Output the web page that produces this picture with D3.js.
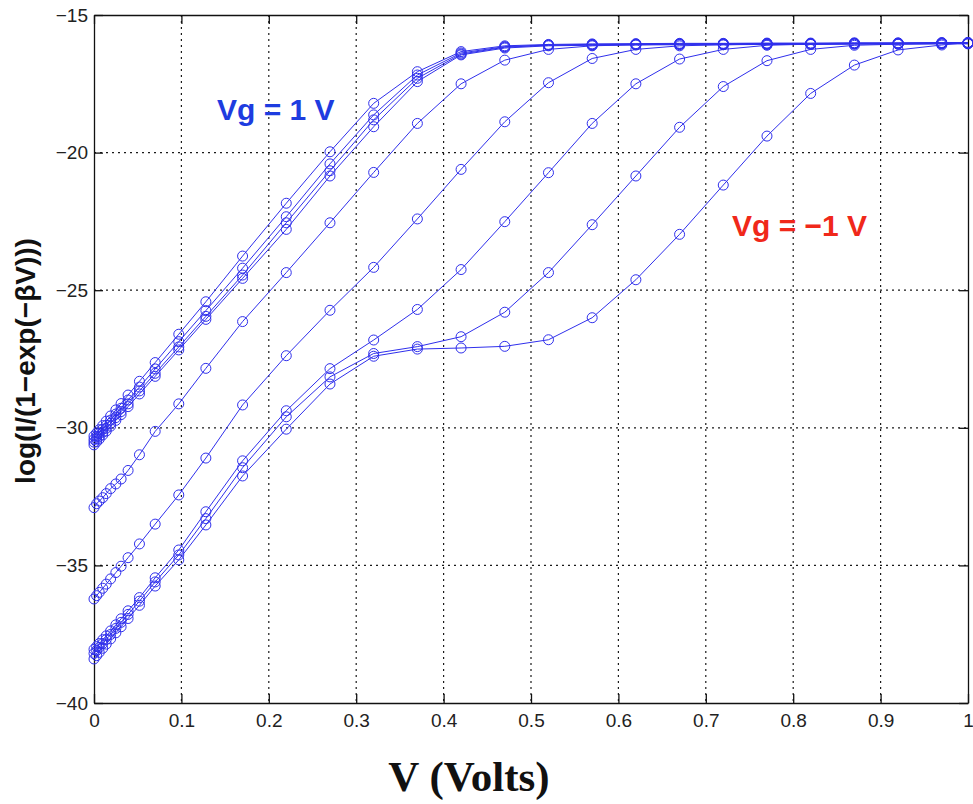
<!DOCTYPE html>
<html>
<head>
<meta charset="utf-8">
<script src="https://cdn.jsdelivr.net/npm/d3@7"></script>
<style>
	body { margin: 0; background: #fff; }
</style>
</head>
<body>
<div id="chart"></div>
<script>
// bias points (V) and one curve per gate voltage
const voltages = [0, 0.003, 0.006, 0.01, 0.014, 0.019, 0.025, 0.031, 0.039, 0.052, 0.07, 0.097, 0.128, 0.17, 0.22, 0.27, 0.32, 0.37, 0.42, 0.47, 0.52, 0.57, 0.62, 0.67, 0.72, 0.77, 0.82, 0.87, 0.92, 0.97, 1.0];

const vgP100 = [-30.30, -30.19, -30.07, -29.92, -29.76, -29.57, -29.35, -29.12, -28.81, -28.31, -27.63, -26.60, -25.42, -23.76, -21.84, -19.97, -18.21, -17.06, -16.33, -16.12, -16.07, -16.05, -16.04, -16.03, -16.03, -16.02, -16.02, -16.01, -16.01, -16.00, -16.00];
const vgP075 = [-30.42, -30.31, -30.20, -30.05, -29.91, -29.72, -29.50, -29.29, -28.99, -28.52, -27.86, -26.87, -25.74, -24.20, -22.33, -20.41, -18.63, -17.18, -16.38, -16.15, -16.09, -16.07, -16.06, -16.05, -16.05, -16.04, -16.04, -16.03, -16.03, -16.02, -16.02];
const vgP050 = [-30.52, -30.41, -30.31, -30.16, -30.02, -29.84, -29.63, -29.41, -29.13, -28.66, -28.02, -27.06, -25.95, -24.45, -22.55, -20.66, -18.81, -17.30, -16.42, -16.17, -16.10, -16.08, -16.07, -16.06, -16.06, -16.05, -16.05, -16.04, -16.04, -16.03, -16.03];
const vgP025 = [-30.62, -30.51, -30.41, -30.26, -30.12, -29.94, -29.73, -29.52, -29.23, -28.77, -28.13, -27.17, -26.06, -24.57, -22.79, -20.85, -19.06, -17.42, -16.45, -16.20, -16.12, -16.10, -16.09, -16.08, -16.08, -16.07, -16.07, -16.06, -16.06, -16.05, -16.05];
const vg000 = [-32.90, -32.76, -32.66, -32.54, -32.39, -32.21, -32.04, -31.86, -31.55, -30.98, -30.13, -29.13, -27.84, -26.14, -24.36, -22.55, -20.72, -18.94, -17.50, -16.64, -16.25, -16.12, -16.08, -16.06, -16.05, -16.04, -16.04, -16.03, -16.03, -16.03, -16.02];
const vgM025 = [-36.22, -36.10, -35.98, -35.83, -35.68, -35.49, -35.26, -35.03, -34.72, -34.22, -33.50, -32.44, -31.10, -29.17, -27.38, -25.73, -24.17, -22.41, -20.61, -18.88, -17.46, -16.58, -16.25, -16.12, -16.08, -16.06, -16.05, -16.04, -16.04, -16.03, -16.03];
const vgM050 = [-38.05, -37.95, -37.84, -37.70, -37.56, -37.38, -37.16, -36.94, -36.65, -36.17, -35.45, -34.44, -33.05, -31.20, -29.38, -27.85, -26.81, -25.70, -24.25, -22.51, -20.73, -18.94, -17.50, -16.60, -16.25, -16.10, -16.06, -16.04, -16.03, -16.02, -16.02];
const vgM075 = [-38.20, -38.09, -37.98, -37.84, -37.69, -37.51, -37.29, -37.07, -36.78, -36.30, -35.60, -34.62, -33.30, -31.45, -29.60, -28.15, -27.30, -27.05, -26.69, -25.80, -24.36, -22.62, -20.85, -19.08, -17.60, -16.66, -16.25, -16.10, -16.06, -16.04, -16.03];
const vgM100 = [-38.40, -38.28, -38.16, -38.01, -37.86, -37.67, -37.45, -37.23, -36.93, -36.45, -35.75, -34.80, -33.53, -31.75, -30.05, -28.41, -27.40, -27.14, -27.10, -27.04, -26.80, -26.00, -24.62, -22.97, -21.18, -19.40, -17.85, -16.82, -16.27, -16.09, -16.00];

const curves = [vgP100, vgP075, vgP050, vgP025, vg000, vgM025, vgM050, vgM075, vgM100];

const xTicks = [0, 0.1, 0.2, 0.3, 0.4, 0.5, 0.6, 0.7, 0.8, 0.9, 1];
const xTickLabels = ["0", "0.1", "0.2", "0.3", "0.4", "0.5", "0.6", "0.7", "0.8", "0.9", "1"];
const yTicks = [-40, -35, -30, -25, -20, -15];
const yTickLabels = ["\u221240", "\u221235", "\u221230", "\u221225", "\u221220", "\u221215"];

const width = 973;
const height = 804;
const lineColor = "#2f2fec";

const x = d3.scaleLinear().domain([0, 1]).range([94, 968]);
const y = d3.scaleLinear().domain([-40, -15]).range([703, 15]);

const svg = d3
	.select("#chart")
	.append("svg")
	.attr("width", width)
	.attr("height", height)
	.style("font-family", "'Liberation Sans', Arial, sans-serif");

// dotted grid
const grid = svg.append("g").attr("stroke", "#1a1a1a").attr("stroke-width", 1.2).attr("stroke-dasharray", "2,4");
grid
	.selectAll(".gx")
	.data(xTicks.slice(1, -1))
	.join("line")
	.attr("x1", (d) => x(d))
	.attr("x2", (d) => x(d))
	.attr("y1", y(-15))
	.attr("y2", y(-40));
grid
	.selectAll(".gy")
	.data(yTicks.slice(1, -1))
	.join("line")
	.attr("x1", x(0))
	.attr("x2", x(1))
	.attr("y1", (d) => y(d))
	.attr("y2", (d) => y(d));

// axes, ticks pointing inwards on all four sides
const axisStyle = (g) => {
	g.selectAll("path, line").attr("stroke", "#111").attr("stroke-width", 1.3);
	g.selectAll("text").attr("fill", "#222").style("font-size", "19px").style("font-family", "'Liberation Sans', Arial, sans-serif");
};

svg.append("g")
	.attr("transform", `translate(0,${y(-40)})`)
	.call(d3.axisBottom(x).tickValues(xTicks).tickFormat((d, i) => xTickLabels[i]).tickSizeInner(-9).tickSizeOuter(0).tickPadding(11))
	.call(axisStyle);

svg.append("g")
	.attr("transform", `translate(${x(0)},0)`)
	.call(d3.axisLeft(y).tickValues(yTicks).tickFormat((d, i) => yTickLabels[i]).tickSizeInner(-9).tickSizeOuter(0).tickPadding(6))
	.call(axisStyle);

svg.append("g")
	.attr("transform", `translate(0,${y(-15)})`)
	.call(d3.axisTop(x).tickValues(xTicks).tickFormat("").tickSizeInner(-9).tickSizeOuter(0))
	.call(axisStyle);

svg.append("g")
	.attr("transform", `translate(${x(1)},0)`)
	.call(d3.axisRight(y).tickValues(yTicks).tickFormat("").tickSizeInner(-9).tickSizeOuter(0))
	.call(axisStyle);

// curves
const line = d3
	.line()
	.x((d, i) => x(voltages[i]))
	.y((d) => y(d));

const curve = svg
	.append("g")
	.selectAll(".curve")
	.data(curves)
	.join("g")
	.classed("curve", true);

curve
	.append("path")
	.attr("d", (d) => line(d))
	.attr("fill", "none")
	.attr("stroke", lineColor)
	.attr("stroke-width", 1);

curve
	.selectAll("circle")
	.data((d) => d)
	.join("circle")
	.attr("cx", (d, i) => x(voltages[i]))
	.attr("cy", (d) => y(d))
	.attr("r", 5)
	.attr("fill", "none")
	.attr("stroke", lineColor)
	.attr("stroke-width", 1);

// annotations
svg.append("text")
	.attr("x", 217)
	.attr("y", 120)
	.attr("fill", "#1e3ce0")
	.style("font-size", "30px")
	.style("font-weight", "bold")
	.text("Vg = 1 V");

svg.append("text")
	.attr("x", 732)
	.attr("y", 236)
	.attr("fill", "#f0281a")
	.style("font-size", "30px")
	.style("font-weight", "bold")
	.text("Vg = \u22121 V");

// axis titles
svg.append("text")
	.attr("transform", "translate(35,361) rotate(-90)")
	.attr("text-anchor", "middle")
	.attr("fill", "#111")
	.style("font-size", "28px")
	.style("font-weight", "bold")
	.text("log(I/(1\u2212exp(\u2212\u03b2V)))");

svg.append("text")
	.attr("x", 469)
	.attr("y", 791)
	.attr("text-anchor", "middle")
	.attr("fill", "#111")
	.style("font-family", "'Liberation Serif', 'Times New Roman', serif")
	.style("font-size", "43px")
	.style("font-weight", "bold")
	.text("V (Volts)");
</script>
</body>
</html>
